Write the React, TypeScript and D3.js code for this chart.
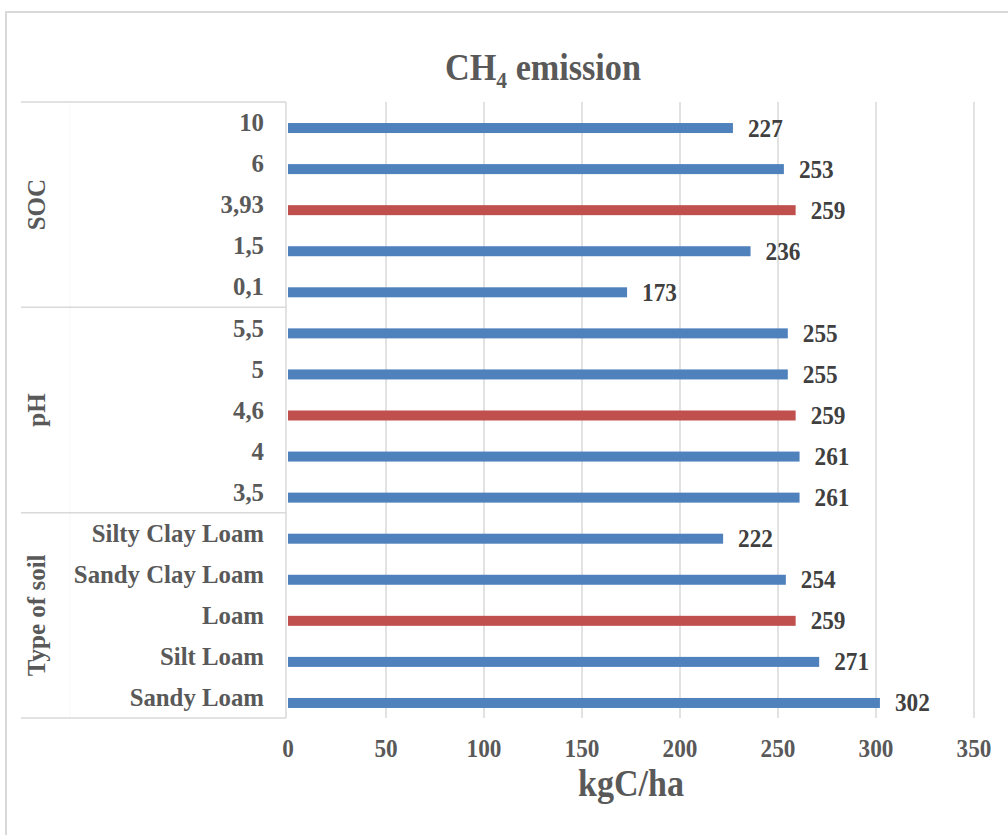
import React from "react";
import * as d3 from "d3";

// Categories listed top to bottom, grouped by soil parameter
const groupNames = ["SOC", "pH", "Type of soil"];
const categories = [
  "10", "6", "3,93", "1,5", "0,1",
  "5,5", "5", "4,6", "4", "3,5",
  "Silty Clay Loam", "Sandy Clay Loam", "Loam", "Silt Loam", "Sandy Loam",
];
const categoryGroup = [0, 0, 0, 0, 0, 1, 1, 1, 1, 1, 2, 2, 2, 2, 2];
const emissions = [227, 253, 259, 236, 173, 255, 255, 259, 261, 261, 222, 254, 259, 271, 302];
// Baseline scenario rows are highlighted in red
const isBaseline = [false, false, true, false, false, false, false, true, false, false, false, false, true, false, false];
const xTicks = [0, 50, 100, 150, 200, 250, 300, 350];

const W = 1008;
const H = 835;
const plot = { left: 288, right: 974, top: 102, bottom: 718 };
const labelBoxLeft = 21;
const axisLineX = 286;
const barThickness = 10;
const barShift = 5.5;

const blue = "#4F81BD";
const red = "#C0504D";
const grid = "#D9D9D9";
const axisText = "#595959";
const valueText = "#404040";
const font = "'Liberation Serif', 'Times New Roman', serif";

// Slightly condensed text, drawn at (x, y)
function Condensed({
  x, y, sx = 0.92, anchor = "start", size, fill, children,
}: {
  x: number; y: number; sx?: number; anchor?: string; size: number; fill: string; children: React.ReactNode;
}) {
  return (
    <g transform={`translate(${x},${y}) scale(${sx},1)`}>
      <text x={0} y={0} textAnchor={anchor as any} fontSize={size} fill={fill}>
        {children}
      </text>
    </g>
  );
}

export default function App() {
  const x = d3.scaleLinear().domain([0, 350]).range([plot.left, plot.right]);
  const y = d3
    .scaleBand<number>()
    .domain(d3.range(categories.length))
    .range([plot.top, plot.bottom])
    .padding(0);
  const bw = y.bandwidth();

  // group extents (first/last row index)
  const groups = groupNames.map((name, g) => {
    const idx = categoryGroup.map((v, i) => (v === g ? i : -1)).filter((i) => i >= 0);
    const top = y(idx[0])!;
    const bottom = y(idx[idx.length - 1])! + bw;
    return { name, top, bottom };
  });

  return (
    <svg
      width={W}
      height={H}
      style={{ position: "absolute", left: 0, top: 0, background: "#fff" }}
      fontFamily={font}
      fontWeight="bold"
    >
      {/* chart frame */}
      <rect x={6} y={12} width={1100} height={900} fill="#fff" stroke="#D9D9D9" strokeWidth={2} />

      {/* title */}
      <Condensed x={543} y={80} sx={0.9} anchor="middle" size={38} fill={axisText}>
        CH
        <tspan fontSize={24} dy={8}>4</tspan>
        <tspan dy={-8}> emission</tspan>
      </Condensed>

      {/* vertical gridlines */}
      {xTicks.filter((t) => t > 0).map((t) => (
        <line key={t} x1={x(t)} x2={x(t)} y1={plot.top} y2={plot.bottom} stroke={grid} strokeWidth={1.5} />
      ))}

      {/* category axis line and group dividers */}
      <line x1={axisLineX} x2={axisLineX} y1={plot.top} y2={plot.bottom} stroke={grid} strokeWidth={1.5} />
      <line x1={70} x2={70} y1={plot.top} y2={plot.bottom} stroke="#F7F7F7" strokeWidth={1} />
      {[plot.top, ...groups.map((g) => g.bottom)].map((yy, i) => (
        <line key={i} x1={labelBoxLeft} x2={axisLineX} y1={yy} y2={yy} stroke={grid} strokeWidth={1.5} />
      ))}

      {/* bars */}
      {emissions.map((v, i) => (
        <rect
          key={i}
          x={x(0)}
          y={y(i)! + bw / 2 + barShift - barThickness / 2}
          width={x(v) - x(0)}
          height={barThickness}
          fill={isBaseline[i] ? red : blue}
        />
      ))}

      {/* value labels */}
      {emissions.map((v, i) => (
        <Condensed key={i} x={x(v) + 15} y={y(i)! + bw / 2 + barShift + 8.5} sx={0.93} size={25} fill={valueText}>
          {v}
        </Condensed>
      ))}

      {/* category labels */}
      {categories.map((c, i) => (
        <text key={c + i} x={264} y={y(i)! + bw / 2} dy="0.35em" textAnchor="end" fontSize={24.8} fill={axisText}>
          {c}
        </text>
      ))}

      {/* group labels */}
      {groups.map((g) => (
        <text
          key={g.name}
          transform={`translate(36,${(g.top + g.bottom) / 2}) rotate(-90)`}
          textAnchor="middle"
          dy="0.35em"
          fontSize={25}
          fill={axisText}
        >
          {g.name}
        </text>
      ))}

      {/* x tick labels */}
      {xTicks.map((t) => (
        <Condensed key={t} x={x(t)} y={756.5} sx={0.93} anchor="middle" size={25} fill={axisText}>
          {t}
        </Condensed>
      ))}

      {/* x axis title */}
      <Condensed x={(plot.left + plot.right) / 2} y={796} sx={0.92} anchor="middle" size={37} fill={axisText}>
        kgC/ha
      </Condensed>
    </svg>
  );
}
